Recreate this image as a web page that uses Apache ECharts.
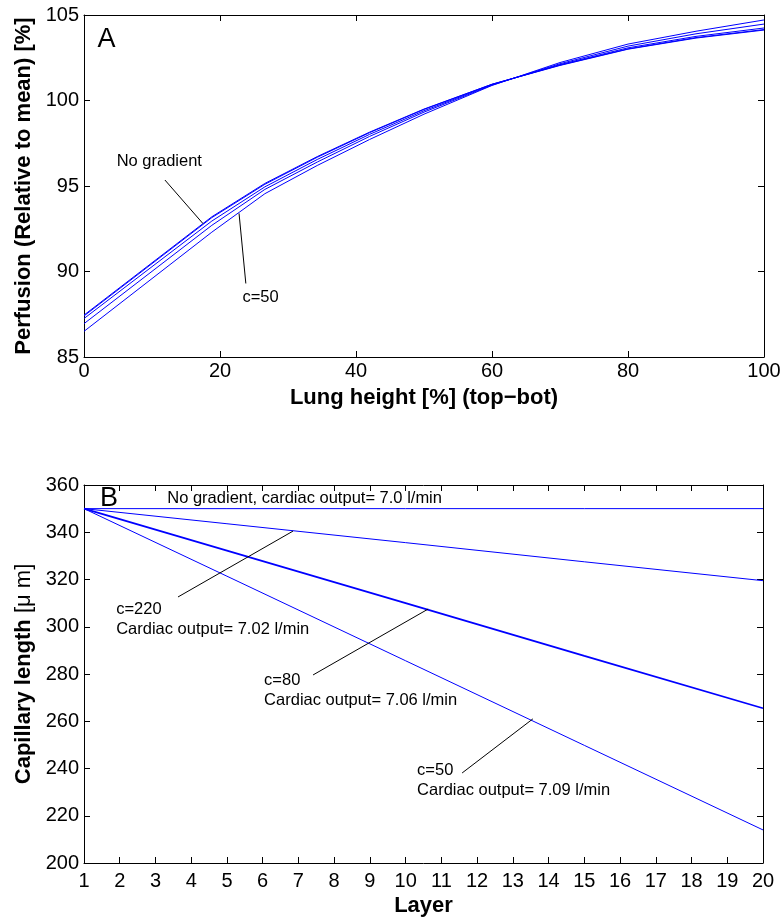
<!DOCTYPE html>
<html>
<head>
<meta charset="utf-8">
<script src="https://cdn.jsdelivr.net/npm/echarts@6/dist/echarts.min.js"></script>
<style>
  html, body { margin: 0; padding: 0; background: #fff; }
  #chart { width: 784px; height: 920px; }
</style>
</head>
<body>
<div id="chart"></div>
<script>
// panel A: perfusion vs lung height
const lungHeight = [0, 18.8, 26.6, 34.3, 42, 50, 60, 70, 80, 90, 100]
const perfNoGrad = [87.45, 93.2, 95.15, 96.72, 98.15, 99.5, 100.95, 102.05, 103.0, 103.65, 104.12]
const perfA2 = [87.40, 93.15, 95.1, 96.68, 98.12, 99.48, 100.95, 102.07, 103.02, 103.68, 104.15]
const perfA3 = [87.25, 92.95, 94.95, 96.55, 98.02, 99.4, 100.93, 102.1, 103.08, 103.75, 104.24]
const perfA4 = [86.95, 92.7, 94.8, 96.4, 97.9, 99.32, 100.9, 102.15, 103.18, 103.9, 104.47]
const perfC50 = [86.5, 92.3, 94.55, 96.2, 97.72, 99.2, 100.88, 102.22, 103.3, 104.05, 104.71]

// panel B: capillary length vs layer
const layers = [1, 5, 10, 15, 20]
const capNoGrad = [350, 350, 350, 350, 350]
const capC220 = [350, 343.6, 335.6, 327.5, 319.5]
const capC80 = [350, 332.2, 310.0, 287.7, 265.5]
const capC50 = [350, 321.4, 285.6, 249.8, 214]

// annotations (data coords): [x, y, text, fontSize]
const notesA = [
  [2.0, 103.55, 'A', 27],
  [4.8, 96.45, 'No gradient', 16.5],
  [23.3, 88.5, 'c=50', 16.5]
]
const leadersA = [
  [[11.9, 95.35], [17.5, 92.8]],
  [[23.8, 89.3], [22.8, 93.4]]
]
const notesB = [
  [1.45, 354.2, 'B', 27],
  [3.33, 354.4, 'No gradient, cardiac output= 7.0 l/min', 16.5],
  [1.9, 303.3, 'c=220\nCardiac output= 7.02 l/min', 16.5],
  [6.04, 273.2, 'c=80\nCardiac output= 7.06 l/min', 16.5],
  [10.32, 235.1, 'c=50\nCardiac output= 7.09 l/min', 16.5]
]
const leadersB = [
  [[3.63, 312.6], [6.85, 340.5]],
  [[7.41, 279.6], [10.63, 307.5]],
  [[11.58, 238.1], [13.56, 261.0]]
]

const FONT = 'Liberation Sans'
const zip = (xs, ys) => xs.map((x, i) => [x, ys[i]])

let mychart = echarts.init(document.getElementById('chart'))

function boxAxis (grid, pos, min, max, interval) {
  return {
    gridIndex: grid, type: 'value', position: pos, min: min, max: max, interval: interval,
    axisLine: { show: true, onZero: false, lineStyle: { color: '#000', width: 1 } },
    axisTick: { show: true, inside: true, length: 6, lineStyle: { color: '#000' } },
    axisLabel: { show: false },
    splitLine: { show: false }
  }
}

function mainAxis (grid, pos, min, max, interval, name, gap, margin) {
  let ax = boxAxis(grid, pos, min, max, interval)
  ax.axisLabel = { show: true, color: '#000', fontFamily: FONT, fontSize: 20, margin: margin }
  ax.name = name
  ax.nameLocation = 'middle'
  ax.nameGap = gap
  ax.nameTextStyle = { color: '#000', fontFamily: FONT, fontSize: 22, fontWeight: 'bold' }
  return ax
}

function blueLine (xi, yi, data, width) {
  return {
    type: 'line', xAxisIndex: xi, yAxisIndex: yi, data: data,
    symbol: 'none', silent: true, animation: false,
    lineStyle: { color: '#0000ff', width: width || 1 }
  }
}

function leaderSeries (xi, yi, segs) {
  let data = []
  segs.forEach(s => { data.push(s[0], s[1], [null, null]) })
  return {
    type: 'line', xAxisIndex: xi, yAxisIndex: yi, data: data, connectNulls: false,
    symbol: 'none', silent: true, animation: false,
    lineStyle: { color: '#000', width: 1 }
  }
}

function noteSeries (xi, yi, notes) {
  return {
    type: 'scatter', xAxisIndex: xi, yAxisIndex: yi, symbolSize: 0, silent: true, animation: false,
    itemStyle: { opacity: 1 },
    data: notes.map(n => ({
      value: [n[0], n[1]], name: n[2],
      label: { fontSize: n[3], color: '#000', fontFamily: FONT }
    })),
    label: {
      show: true, position: 'right', distance: 0, align: 'left', verticalAlign: 'middle',
      color: '#000', fontFamily: FONT, lineHeight: 20,
      formatter: p => p.name
    }
  }
}

let yNameB = mainAxis(1, 'left', 200, 360, 20, '{b|Capillary length }{r|[μ m]}', 45, 5)
yNameB.nameTextStyle.rich = {
  b: { fontFamily: FONT, fontSize: 22, fontWeight: 'bold', color: '#000' },
  r: { fontFamily: FONT, fontSize: 22, fontWeight: 'normal', color: '#000' }
}

let option = {
  backgroundColor: '#fff',
  animation: false,
  grid: [
    { left: 84, right: 20, top: 15, height: 342 },
    { left: 84, right: 21, top: 485, height: 378 }
  ],
  xAxis: [
    mainAxis(0, 'bottom', 0, 100, 20, 'Lung height [%] (top−bot)', 30, 4),
    boxAxis(0, 'top', 0, 100, 20),
    mainAxis(1, 'bottom', 1, 20, 1, 'Layer', 32, 8),
    boxAxis(1, 'top', 1, 20, 1)
  ],
  yAxis: [
    mainAxis(0, 'left', 85, 105, 5, 'Perfusion (Relative to mean) [%]', 45, 5),
    boxAxis(0, 'right', 85, 105, 5),
    yNameB,
    boxAxis(1, 'right', 200, 360, 20)
  ],
  series: [
    blueLine(0, 0, zip(lungHeight, perfNoGrad)),
    blueLine(0, 0, zip(lungHeight, perfA2)),
    blueLine(0, 0, zip(lungHeight, perfA3)),
    blueLine(0, 0, zip(lungHeight, perfA4)),
    blueLine(0, 0, zip(lungHeight, perfC50)),
    leaderSeries(0, 0, leadersA),
    noteSeries(0, 0, notesA),
    blueLine(2, 2, zip(layers, capNoGrad)),
    blueLine(2, 2, zip(layers, capC220)),
    blueLine(2, 2, zip(layers, capC80), 1.8),
    blueLine(2, 2, zip(layers, capC50)),
    leaderSeries(2, 2, leadersB),
    noteSeries(2, 2, notesB)
  ]
}
mychart.setOption(option)
</script>
</body>
</html>
